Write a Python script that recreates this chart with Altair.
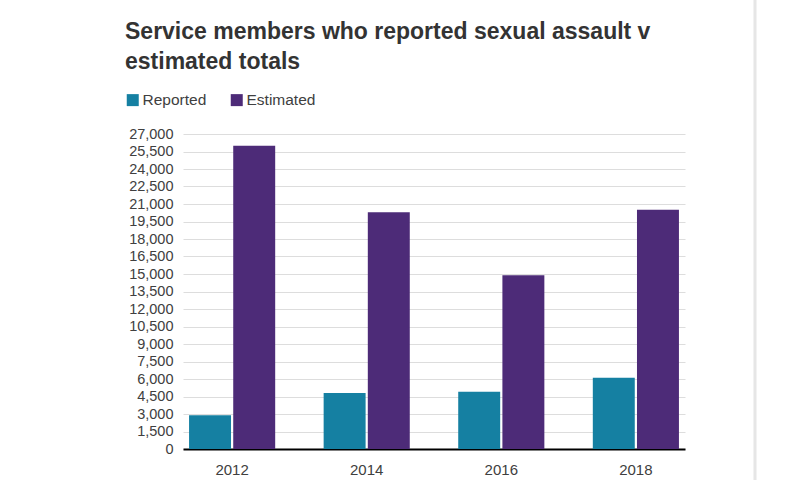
import altair as alt
import pandas as pd

years = ["2012", "2014", "2016", "2018"]
reported = [2900, 4800, 4900, 6100]
estimated = [26000, 20300, 14900, 20500]
series = ["Reported", "Estimated"]
colors = ["#1580a2", "#4d2b78"]
y_ticks = list(range(0, 27001, 1500))

rows = []
for i, y in enumerate(years):
    rows.append({"year": y, "series": "Reported", "value": reported[i]})
    rows.append({"year": y, "series": "Estimated", "value": estimated[i]})
df = pd.DataFrame(rows)

font = "Liberation Sans"
W, H = 502, 315

bars = alt.Chart(df).mark_bar().encode(
    x=alt.X("year:N", title=None, sort=years,
            scale=alt.Scale(paddingInner=0.36, paddingOuter=0.045),
            axis=alt.Axis(labelAngle=0, ticks=False, domain=True, domainColor="#000000",
                          domainWidth=2, labelPadding=13, labelFontSize=15,
                          labelColor="#404040", labelFont=font, grid=False)),
    xOffset=alt.XOffset("series:N", sort=series, scale=alt.Scale(paddingInner=0.05)),
    y=alt.Y("value:Q", title=None,
            scale=alt.Scale(domain=[0, 27000], nice=False),
            axis=alt.Axis(values=y_ticks, format=",.0f", ticks=False, domain=False,
                          labelPadding=10, labelFontSize=14.5, labelColor="#404040",
                          labelFont=font, gridColor="#dddddd", gridWidth=1)),
    color=alt.Color("series:N", sort=series,
                    scale=alt.Scale(domain=series, range=colors),
                    legend=alt.Legend(title=None, orient="none", legendX=-58, legendY=-42,
                                      direction="horizontal", symbolType="square",
                                      symbolSize=144, symbolStrokeWidth=0,
                                      labelFontSize=15.5, labelColor="#404040",
                                      labelFont=font, columnPadding=22, labelOffset=2)),
)

border = alt.Chart(alt.Data(values=[{"k": 1}])).mark_rule(
    color="#e6e6e6", strokeWidth=3, clip=False
).encode(x=alt.value(572), y=alt.value(-134), y2=alt.value(346))

chart = alt.layer(bars, border).properties(
    width=W, height=H,
    title=alt.TitleParams(
        text=["Service members who reported sexual assault v", "estimated totals"],
        anchor="start", frame="group", dx=-58, offset=0, dy=75,
        font=font, fontSize=23, fontWeight="bold", color="#333333", lineHeight=30,
    ),
    padding={"left": 183, "top": 134, "right": 115, "bottom": 31},
    autosize=alt.AutoSizeParams(type="none"),
).configure(background="#ffffff").configure_view(stroke=None, strokeWidth=0)

chart.save("out.html", embed_options={"renderer": "svg", "actions": False})
